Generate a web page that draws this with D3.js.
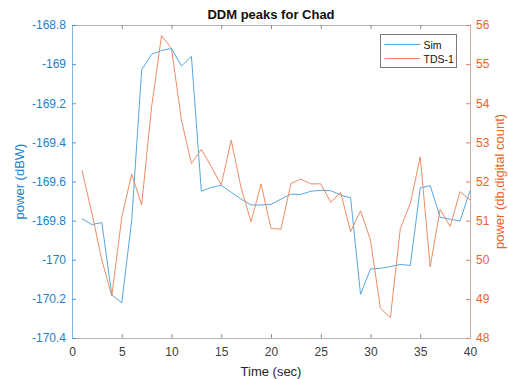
<!DOCTYPE html>
<html>
<head>
<meta charset="utf-8">
<script src="https://cdn.jsdelivr.net/npm/d3@7"></script>
<style>
  html, body { margin: 0; padding: 0; background: #fff; }
  svg { display: block; font-family: "Liberation Sans", Arial, sans-serif; }
</style>
</head>
<body>
<svg id="chart" width="508" height="379"></svg>
<script>
// Time axis (seconds)
const timeSec = d3.range(1, 41);

// Simulated DDM peak power (dBW), left axis
const simPower = [
  -169.79, -169.82, -169.81, -170.18, -170.22, -169.80, -169.03, -168.95, -168.93, -168.92,
  -169.01, -168.96, -169.65, -169.63, -169.62, -169.655, -169.69, -169.72, -169.72, -169.717,
  -169.69, -169.665, -169.666, -169.65, -169.645, -169.647, -169.67, -169.683, -170.177, -170.047,
  -170.044, -170.035, -170.024, -170.029, -169.633, -169.621, -169.783, -169.793, -169.802, -169.647
];

// TDS-1 DDM peak (dB, digital count), right axis
const tdsPower = [
  52.29, 51.19, 49.99, 49.07, 51.08, 52.19, 51.40, 53.91, 55.73, 55.40,
  53.57, 52.46, 52.82, 52.38, 51.91, 53.06, 51.83, 50.97, 51.94, 50.80,
  50.78, 51.95, 52.06, 51.94, 51.94, 51.47, 51.72, 50.72, 51.25, 50.50,
  48.76, 48.52, 50.80, 51.44, 52.63, 49.82, 51.29, 50.85, 51.74, 51.53
];

const xTicks = [0, 5, 10, 15, 20, 25, 30, 35, 40];
const leftTicks = [-170.4, -170.2, -170, -169.8, -169.6, -169.4, -169.2, -169, -168.8];
const rightTicks = [48, 49, 50, 51, 52, 53, 54, 55, 56];
const seriesNames = ["Sim", "TDS-1"];

const plot = { left: 72, right: 470, top: 25, bottom: 338 };
const blue = "#55A7DE", orange = "#EF8C63";
const blueText = "#1D7FCB", orangeText = "#EC6428";

const svg = d3.select("#chart");

const x = d3.scaleLinear().domain([0, 40]).range([plot.left, plot.right]);
const yL = d3.scaleLinear().domain([-170.4, -168.8]).range([plot.bottom, plot.top]);
const yR = d3.scaleLinear().domain([48, 56]).range([plot.bottom, plot.top]);

// Bottom and top axes
const bottomAxis = svg.append("g")
  .attr("transform", `translate(0,${plot.bottom})`)
  .call(d3.axisBottom(x).tickValues(xTicks).tickSizeInner(-4).tickSizeOuter(0).tickPadding(9).tickFormat(d3.format("d")));
const topAxis = svg.append("g")
  .attr("transform", `translate(0,${plot.top})`)
  .call(d3.axisTop(x).tickValues(xTicks).tickSizeInner(-4).tickSizeOuter(0).tickFormat(""));
[bottomAxis, topAxis].forEach(g => {
  g.select(".domain").attr("stroke", "#b3b3b3");
  g.selectAll(".tick line").attr("stroke", "#8c8c8c");
  g.selectAll(".tick text").attr("fill", "#404040").attr("font-size", 12);
});

// Left axis
const leftAxis = svg.append("g")
  .attr("transform", `translate(${plot.left},0)`)
  .call(d3.axisLeft(yL).tickValues(leftTicks).tickSizeInner(-4).tickSizeOuter(0).tickPadding(6)
    .tickFormat(d => String(+d.toFixed(1))));
leftAxis.select(".domain").attr("stroke", "#7fb8e3");
leftAxis.selectAll(".tick line").attr("stroke", "#4a9ad6");
leftAxis.selectAll(".tick text").attr("fill", blueText).attr("font-size", 12);

// Right axis
const rightAxis = svg.append("g")
  .attr("transform", `translate(${plot.right},0)`)
  .call(d3.axisRight(yR).tickValues(rightTicks).tickSizeInner(-4).tickSizeOuter(0).tickPadding(6)
    .tickFormat(d3.format("d")));
rightAxis.select(".domain").attr("stroke", "#d2aa9c");
rightAxis.selectAll(".tick line").attr("stroke", "#e0845c");
rightAxis.selectAll(".tick text").attr("fill", orangeText).attr("font-size", 12);

// Lines
const simLine = d3.line().x((d, i) => x(timeSec[i])).y(d => yL(d));
const tdsLine = d3.line().x((d, i) => x(timeSec[i])).y(d => yR(d));

svg.append("path").datum(simPower)
  .attr("fill", "none").attr("stroke", blue).attr("stroke-width", 1)
  .attr("d", simLine);
svg.append("path").datum(tdsPower)
  .attr("fill", "none").attr("stroke", orange).attr("stroke-width", 1)
  .attr("d", tdsLine);

// Title and axis labels
svg.append("text")
  .attr("x", (plot.left + plot.right) / 2).attr("y", 19)
  .attr("text-anchor", "middle").attr("font-size", 13).attr("font-weight", "bold").attr("fill", "#111")
  .text("DDM peaks for Chad");

svg.append("text")
  .attr("x", (plot.left + plot.right) / 2).attr("y", 376)
  .attr("text-anchor", "middle").attr("font-size", 13).attr("fill", "#262626")
  .text("Time (sec)");

svg.append("text")
  .attr("transform", `translate(24,${(plot.top + plot.bottom) / 2}) rotate(-90)`)
  .attr("text-anchor", "middle").attr("font-size", 13).attr("fill", blueText)
  .text("power (dBW)");

svg.append("text")
  .attr("transform", `translate(504,${(plot.top + plot.bottom) / 2}) rotate(-90)`)
  .attr("text-anchor", "middle").attr("font-size", 13).attr("fill", orangeText)
  .text("power (db,digital count)");

// Legend
const legend = svg.append("g").attr("transform", "translate(380.5,34.5)");
legend.append("rect")
  .attr("width", 76).attr("height", 33)
  .attr("fill", "#fff").attr("stroke", "#7a7a7a").attr("stroke-width", 1);
const legendColors = [blue, orange];
seriesNames.forEach((name, i) => {
  const ly = 10 + i * 14;
  legend.append("line")
    .attr("x1", 4).attr("x2", 40).attr("y1", ly).attr("y2", ly)
    .attr("stroke", legendColors[i]).attr("stroke-width", 1);
  legend.append("text")
    .attr("x", 43).attr("y", ly + 4)
    .attr("font-size", 10.5).attr("fill", "#111")
    .text(name);
});
</script>
</body>
</html>
